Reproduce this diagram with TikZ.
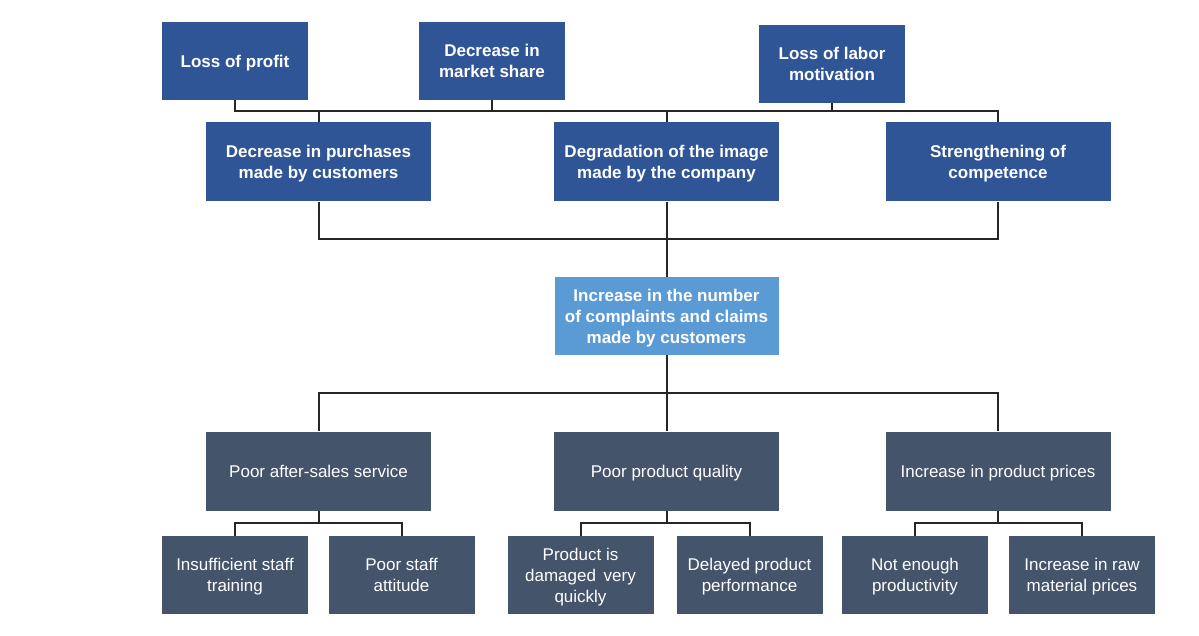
\documentclass[tikz,border=0pt]{standalone}
\usepackage{fontspec}
\setmainfont{Liberation Sans}
\usetikzlibrary{calc}
\definecolor{topblue}{HTML}{2F5597}
\definecolor{lightblue}{HTML}{5B9BD5}
\definecolor{slate}{HTML}{44546A}
\definecolor{linec}{HTML}{262626}
\newcommand\tstr{\rule{0pt}{16.5pt}}
\newcommand\bstr{\rule[-4pt]{0pt}{4pt}}
\tikzset{
  boxbase/.style={rectangle, inner sep=0pt, align=center, text=white},
  topbox/.style={boxbase, fill=topblue, font=\bfseries\fontsize{17}{21}\selectfont},
  midbox/.style={boxbase, fill=lightblue, font=\bfseries\fontsize{17}{21}\selectfont},
  lowbox/.style={boxbase, fill=slate, font=\fontsize{17}{21}\selectfont},
  small/.style={minimum width=146pt, minimum height=78pt},
  wide/.style={minimum width=225pt, minimum height=79pt},
  conn/.style={draw=linec, line width=2pt}
}
\begin{document}
\begin{tikzpicture}[x=1pt, y=-1pt]
\useasboundingbox (0,0) rectangle (1199,636);
% top row
\node[topbox, small] (lp) at (235,61) {\tstr Loss of profit\bstr};
\node[topbox, small] (ms) at (492,61) {\tstr Decrease in\\market share\bstr};
\node[topbox, small] (lm) at (832,64) {\tstr Loss of labor\\motivation\bstr};
% second row
\node[topbox, wide] (dp) at (318.5,162) {\tstr Decrease in purchases\\made by customers\bstr};
\node[topbox, wide] (dg) at (666.5,162) {\tstr Degradation of the image\\made by the company\bstr};
\node[topbox, wide] (st) at (998,162) {\tstr Strengthening of\\competence\bstr};
% center
\node[midbox, minimum width=224pt, minimum height=78pt] (cc) at (666.5,316) {\tstr Increase in the number\\of complaints and claims\\made by customers\bstr};
% third row
\node[lowbox, wide] (ps) at (318.5,471) {\tstr Poor after-sales service\bstr};
\node[lowbox, wide] (pq) at (666.5,471) {\tstr Poor product quality\bstr};
\node[lowbox, wide] (pr) at (998,471) {\tstr Increase in product prices\bstr};
% bottom row
\node[lowbox, small] (b1) at (235,575) {\tstr Insufficient staff\\training\bstr};
\node[lowbox, small] (b2) at (401.5,575) {\tstr Poor staff\\attitude\bstr};
\node[lowbox, small] (b3) at (580.5,575) {\tstr Product is\\damaged\hspace{0.45em}very\\quickly\bstr};
\node[lowbox, small] (b4) at (749.5,575) {\tstr Delayed product\\performance\bstr};
\node[lowbox, small] (b5) at (915,575) {\tstr Not enough\\productivity\bstr};
\node[lowbox, small] (b6) at (1082,575) {\tstr Increase in raw\\material prices\bstr};
% bus levels
\coordinate (y1) at (0,111.5);
\coordinate (y2) at (0,239);
\coordinate (y3) at (0,393);
% top bus
\draw[conn] (lp.south) |- (y1 -| st.north) -- (st.north);
\draw[conn] (ms.south) -- (ms.south |- y1);
\draw[conn] (lm.south) -- (lm.south |- y1);
\draw[conn] (dp.north) -- (dp.north |- y1);
\draw[conn] (dg.north) -- (dg.north |- y1);
% middle bus
\draw[conn] (dp.south) |- (y2 -| st.south) -- (st.south);
\draw[conn] (dg.south) -- (cc.north);
% lower bus
\draw[conn] (cc.south) -- (pq.north);
\draw[conn] (ps.north) |- (y3 -| pr.north) -- (pr.north);
% bottom forks
\draw[conn] (b1.north) -- ++(0,-13) -| (b2.north);
\draw[conn] (ps.south) -- ++(0,13);
\draw[conn] (b3.north) -- ++(0,-13) -| (b4.north);
\draw[conn] (pq.south) -- ++(0,13);
\draw[conn] (b5.north) -- ++(0,-13) -| (b6.north);
\draw[conn] (pr.south) -- ++(0,13);
\end{tikzpicture}
\end{document}
